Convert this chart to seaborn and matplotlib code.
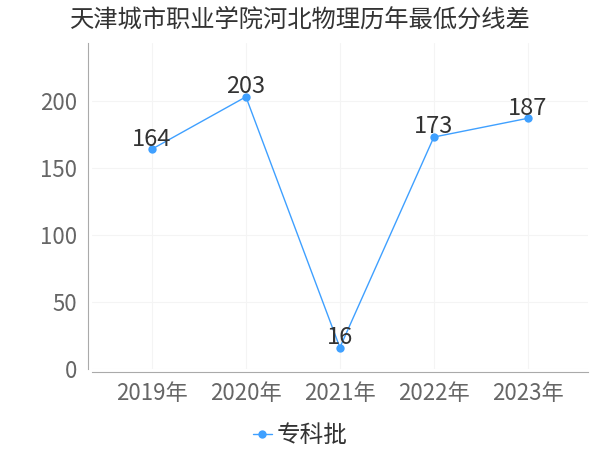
import matplotlib
matplotlib.use("Agg")
import matplotlib.pyplot as plt
import seaborn as sns
import pandas as pd

years = ["2019年", "2020年", "2021年", "2022年", "2023年"]
values = [164, 203, 16, 173, 187]
series_name = "专科批"
title = "天津城市职业学院河北物理历年最低分线差"

sns.set_theme(style="white")
plt.rcParams["font.family"] = ["Noto Sans CJK SC", "DejaVu Sans"]

df = pd.DataFrame({"year": years, "value": values, "series": series_name})

fig = plt.figure(figsize=(6, 4.5), dpi=100)
ax = fig.add_axes([0.153, 0.18, 0.827, 0.724])

color = "#3fa0ff"
sns.lineplot(data=df, x="year", y="value", hue="series", palette=[color],
             marker="o", markersize=6, markeredgewidth=0, linewidth=1,
             ax=ax, sort=False)

for i, v in enumerate(values):
    ax.annotate(str(v), (i, v), xytext=(0, -1), textcoords="offset points",
                ha="center", va="bottom", fontsize=17, color="#333333")

ax.set_xlim(-0.64, 4.64)
ax.set_ylim(0, 243)
ax.set_yticks([0, 50, 100, 150, 200])
ax.grid(True, color="#f4f4f4", linewidth=0.8)
ax.set_xlabel("")
ax.set_ylabel("")
ax.tick_params(axis="both", labelsize=16, colors="#666666", length=4, width=0.8)
for s in ["top", "right"]:
    ax.spines[s].set_visible(False)
for s in ["left", "bottom"]:
    ax.spines[s].set_color("#aaaaaa")
    ax.spines[s].set_linewidth(0.8)
ax.spines["left"].set_position(("outward", 3))
ax.spines["bottom"].set_position(("outward", 2))

leg = ax.legend(loc="upper center", bbox_to_anchor=(0.42, -0.105), frameon=False,
                fontsize=17, handlelength=0.8, handletextpad=0.2)
for t in leg.get_texts():
    t.set_color("#333333")

fig.suptitle(title, x=0.5, y=0.985, fontsize=17.5, color="#333333")

fig.savefig("out.png", dpi=100)
